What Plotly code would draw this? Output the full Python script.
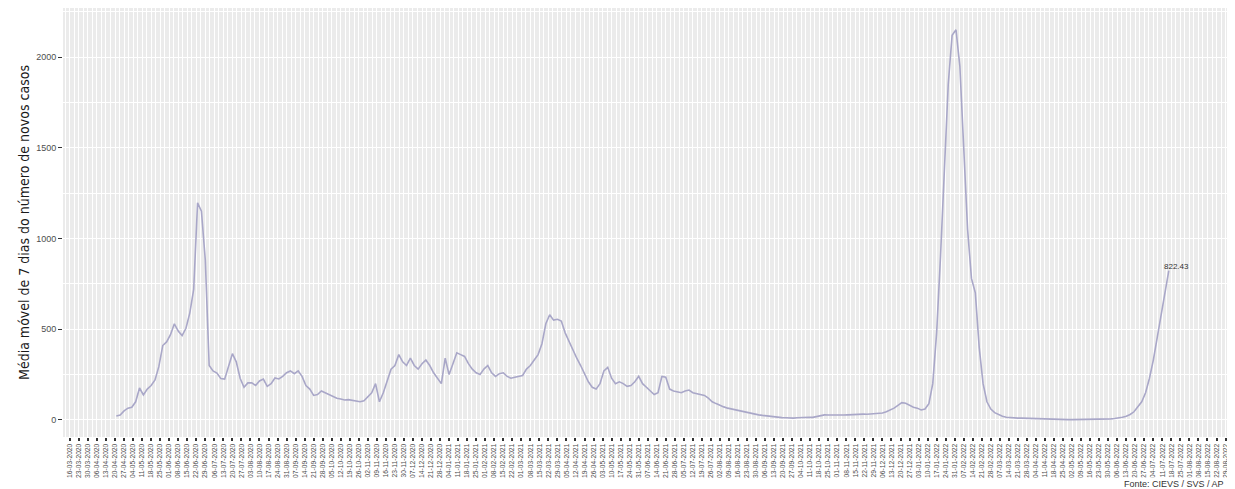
import pandas as pd
import plotly.graph_objects as go

# Data: 7-day moving average of new cases, sampled every 3 days
start_date = "2020-04-21"
step_days = 3
media_movel = [
    22, 27, 50, 65, 70, 100, 176, 138, 170, 190,
    220, 295, 410, 430, 470, 530, 490, 465, 505, 590,
    720, 1196, 1150, 880, 300, 270, 258, 228, 225, 300,
    365, 320, 230, 180, 204, 204, 190, 215, 225, 185,
    200, 231, 226, 240, 260, 270, 255, 270, 240, 190,
    170, 135, 140, 160, 150, 140, 130, 120, 115, 110,
    112, 108, 100, 100, 105, 125, 150, 200, 100, 150,
    210, 280, 300, 360, 320, 300, 340, 300, 280, 310,
    330, 300, 260, 230, 200, 340, 250, 310, 370, 360,
    350, 310, 280, 260, 250, 280, 300, 260, 240, 255,
    260, 240, 230, 235, 240, 245, 280, 300, 330, 360,
    420, 530, 580, 550, 555, 545, 480, 430, 390, 340,
    300, 250, 210, 180, 170, 200, 270, 290, 230, 200,
    210, 200, 185, 190, 210, 240, 200, 180, 160, 140,
    150, 240, 235, 170, 160, 155, 150, 160, 165, 150,
    145, 140, 135, 120, 100, 90, 80, 72, 65, 60,
    55, 50, 45, 40, 36, 32, 28, 25, 22, 20,
    18, 15, 13, 12, 10, 10, 12, 14, 15, 15,
    14, 18, 25, 28, 27, 26, 27, 28, 27, 28,
    30, 30, 30, 32, 31, 33, 35, 36, 38, 45,
    55, 65, 80, 95, 92, 80, 70, 65, 55, 60,
    90, 200, 480, 900, 1400, 1850, 2120, 2150, 1950, 1500,
    1050, 780, 700, 400, 200, 100, 60, 40, 30, 20,
    15, 12, 12, 10, 10, 9, 8, 8, 6, 5,
    5, 4, 4, 3, 3, 3, 2, 2, 2, 3,
    2, 2, 2, 3, 3, 4, 5, 6, 8, 10,
    15, 20, 30, 45, 70, 100, 150, 230, 330, 450,
    570, 700, 822.43,
]
datas = pd.date_range(start_date, periods=len(media_movel), freq=f"{step_days}D")

# Axis ticks: weekly dates
tick_dates = pd.date_range("2020-03-16", "2022-08-29", freq="7D")
tick_labels = [d.strftime("%d-%m-%Y") for d in tick_dates]
y_ticks = [0, 500, 1000, 1500, 2000]

last_label = f"{media_movel[-1]:.2f}"

fig = go.Figure()
fig.add_trace(go.Scatter(
    x=datas, y=media_movel, mode="lines",
    line=dict(color="#A9A7C8", width=1.6),
    hoverinfo="skip", showlegend=False,
))

fig.add_annotation(
    x=datas[-1], y=media_movel[-1], text=last_label, showarrow=False,
    xanchor="center", yanchor="bottom", xshift=8, yshift=-2,
    font=dict(size=8, color="#333333", family="Liberation Sans, Arial, sans-serif"),
)
fig.add_annotation(
    xref="paper", yref="paper", x=1, y=0, xanchor="right", yanchor="middle",
    xshift=-6, yshift=-47, text="Fonte: CIEVS / SVS / AP", showarrow=False,
    bgcolor="white",
    font=dict(size=9, color="#333333", family="Liberation Sans, Arial, sans-serif"),
)

fig.update_layout(
    width=1227, height=481,
    margin=dict(l=55, r=3, t=0, b=52, autoexpand=False),
    paper_bgcolor="white",
    plot_bgcolor="#EBEBEB",
    font=dict(family="Liberation Sans, Arial, sans-serif", color="#4D4D4D"),
)
fig.update_xaxes(
    automargin=False,
    range=["2020-03-10 16:00", "2022-09-03"],
    tickmode="array", tickvals=tick_dates, ticktext=tick_labels,
    tickangle=-90, tickfont=dict(size=6.7, color="#4D4D4D"),
    ticks="outside", ticklen=3, tickwidth=1.5, tickcolor="#333333",
    showgrid=True, gridcolor="white", gridwidth=1,
    minor=dict(showgrid=True, gridcolor="white", gridwidth=0.5,
               dtick=7 * 86400000, tick0="2020-03-19 12:00"),
    zeroline=False, showline=False,
)
fig.update_yaxes(
    automargin=False,
    range=[-94, 2270],
    tickmode="array", tickvals=y_ticks,
    tickfont=dict(size=9, color="#4D4D4D"),
    ticks="outside", ticklen=4, tickwidth=1, tickcolor="#333333",
    showgrid=True, gridcolor="white", gridwidth=1,
    minor=dict(showgrid=True, gridcolor="white", gridwidth=0.5, dtick=250, tick0=250),
    zeroline=False, showline=False,
    title=dict(text="Média móvel de 7 dias do número de novos casos",
               font=dict(size=14, color="#1A1A1A",
                         family="Liberation Sans Narrow, DejaVu Sans Condensed, Arial Narrow, sans-serif"),
               standoff=3),
)

fig.write_html("out.html")
